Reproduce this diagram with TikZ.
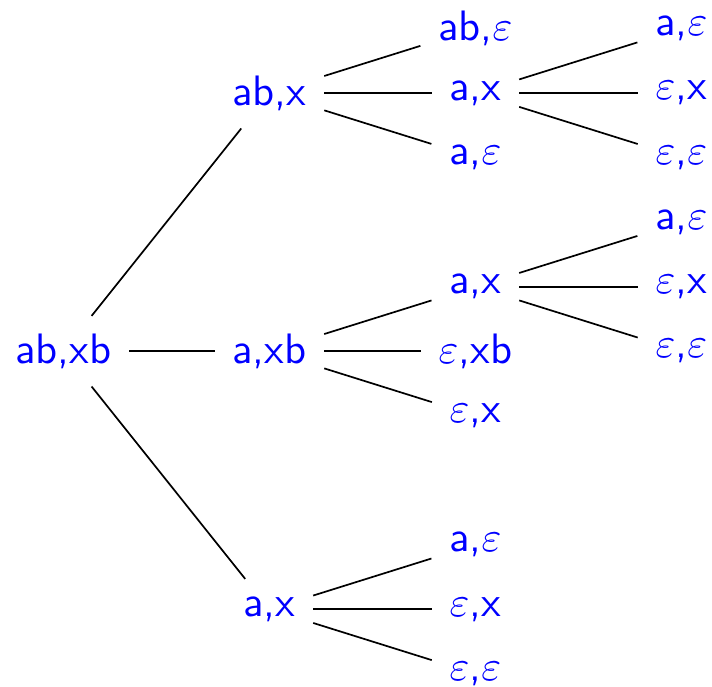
\documentclass[tikz,border=0pt]{standalone}
\tikzset{
  font=\sffamily,
  pair/.style ={text=blue, inner sep=4.2pt, outer sep=0pt},
  br/.style   ={draw, black},
}
\begin{document}
\begin{tikzpicture}[x=48.4pt, y=15.16pt]
  \useasboundingbox (-0.308,-5.194) rectangle (3.149,5.444);
  % root and first level
  \node[pair] (root) at (0,0)  {ab,xb};
  \node[pair] (abx)  at (1,4)  {ab,x};
  \node[pair] (axb)  at (1,0)  {a,xb};
  \node[pair] (ax)   at (1,-4) {a,x};
  % below ab,x
  \node[pair] (t-abe) at (2,5) {ab,$\varepsilon$};
  \node[pair] (t-ax)  at (2,4) {a,x};
  \node[pair] (t-ae)  at (2,3) {a,$\varepsilon$};
  \node[pair] (tt-ae) at (3,5) {a,$\varepsilon$};
  \node[pair] (tt-ex) at (3,4) {$\varepsilon$,x};
  \node[pair] (tt-ee) at (3,3) {$\varepsilon$,$\varepsilon$};
  % below a,xb
  \node[pair] (m-ax)  at (2,1)  {a,x};
  \node[pair] (m-exb) at (2,0)  {$\varepsilon$,xb};
  \node[pair] (m-ex)  at (2,-1) {$\varepsilon$,x};
  \node[pair] (mm-ae) at (3,2)  {a,$\varepsilon$};
  \node[pair] (mm-ex) at (3,1)  {$\varepsilon$,x};
  \node[pair] (mm-ee) at (3,0)  {$\varepsilon$,$\varepsilon$};
  % below a,x
  \node[pair] (b-ae) at (2,-3) {a,$\varepsilon$};
  \node[pair] (b-ex) at (2,-4) {$\varepsilon$,x};
  \node[pair] (b-ee) at (2,-5) {$\varepsilon$,$\varepsilon$};
  % branches
  \draw[br] (root) -- (abx);
  \draw[br] (root) -- (axb);
  \draw[br] (root) -- (ax);
  \draw[br] (abx) -- (t-abe);
  \draw[br] (abx) -- (t-ax);
  \draw[br] (abx) -- (t-ae);
  \draw[br] (t-ax) -- (tt-ae);
  \draw[br] (t-ax) -- (tt-ex);
  \draw[br] (t-ax) -- (tt-ee);
  \draw[br] (axb) -- (m-ax);
  \draw[br] (axb) -- (m-exb);
  \draw[br] (axb) -- (m-ex);
  \draw[br] (m-ax) -- (mm-ae);
  \draw[br] (m-ax) -- (mm-ex);
  \draw[br] (m-ax) -- (mm-ee);
  \draw[br] (ax) -- (b-ae);
  \draw[br] (ax) -- (b-ex);
  \draw[br] (ax) -- (b-ee);
\end{tikzpicture}
\end{document}
